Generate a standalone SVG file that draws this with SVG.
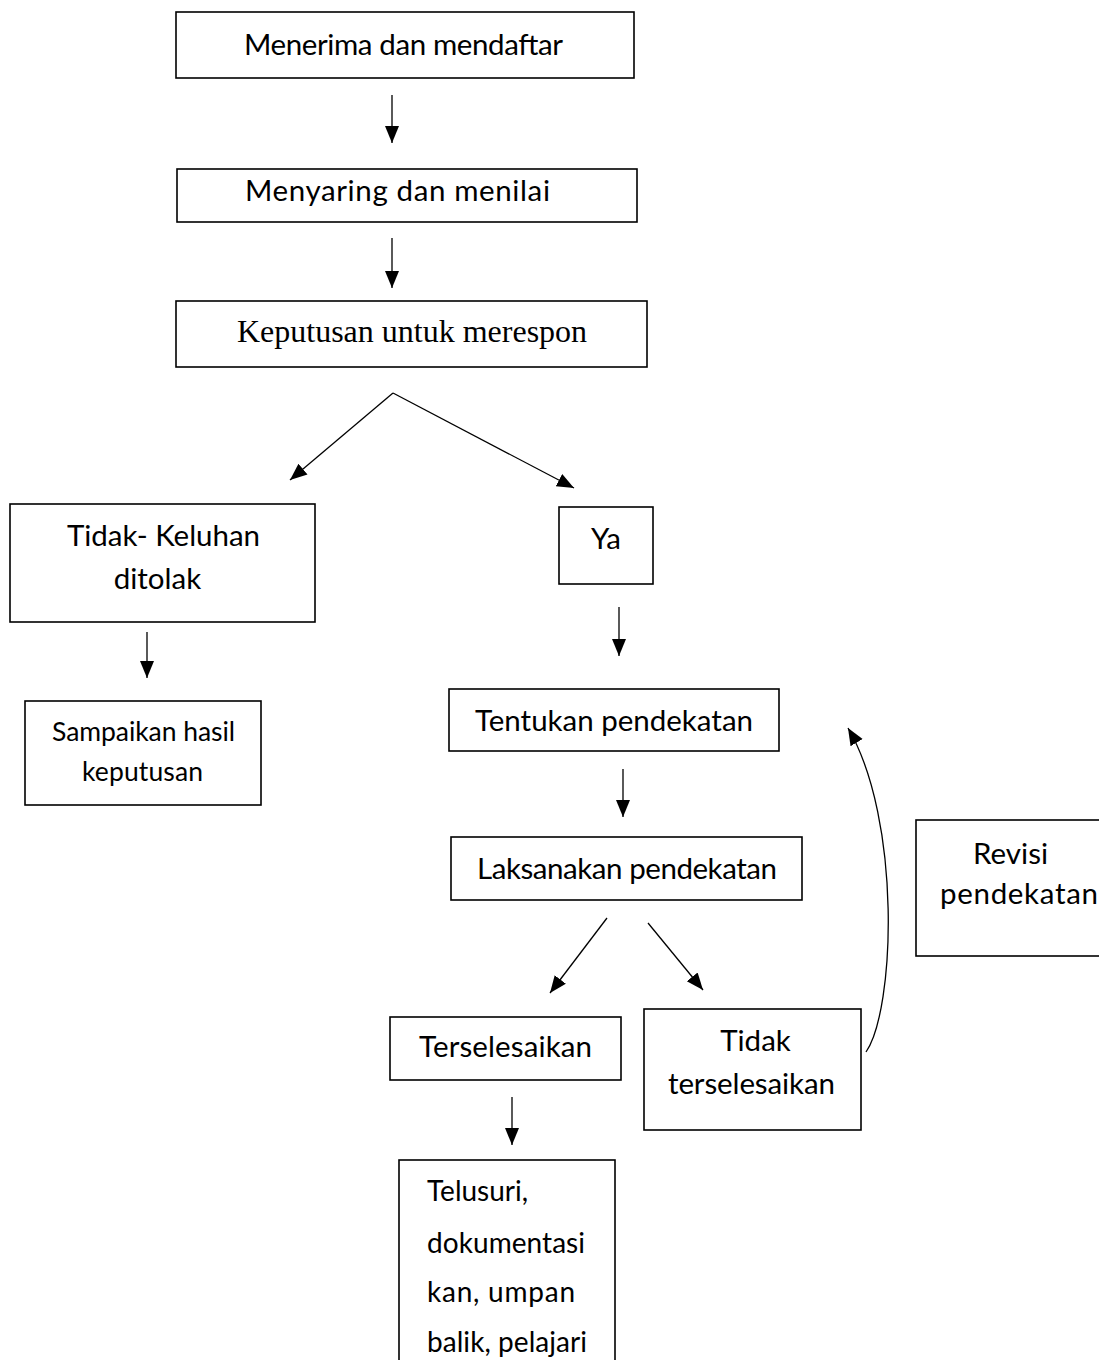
<svg xmlns="http://www.w3.org/2000/svg" width="1099" height="1360" viewBox="0 0 1099 1360">
<style>
.box{fill:#fff;stroke:#000;stroke-width:1.6}
.t{font-family:Lato,"Open Sans","Liberation Sans",sans-serif;font-size:29.5px;fill:#000}
.ts{font-family:Lato,"Open Sans","Liberation Sans",sans-serif;font-size:26.5px;fill:#000}
.tl{font-family:Lato,"Open Sans","Liberation Sans",sans-serif;font-size:28px;fill:#000}
.serif{font-family:"Liberation Serif","Times New Roman",serif;font-size:32px;fill:#000}
.c{text-anchor:middle}
.conn{fill:none;stroke:#000;stroke-width:1.3}
</style>
<defs>
<marker id="ah" markerUnits="userSpaceOnUse" markerWidth="17" markerHeight="17" viewBox="0 0 17 17" refX="17" refY="8.5" orient="auto">
<path d="M0,1.5 L17,8.5 L0,15.5 Z" fill="#000"/>
</marker>
</defs>
<rect width="1099" height="1360" fill="#fff"/>
<g id="connectors">
<line class="conn" x1="392" y1="95" x2="392" y2="143" marker-end="url(#ah)"/>
<line class="conn" x1="392" y1="238" x2="392" y2="288" marker-end="url(#ah)"/>
<line class="conn" x1="393" y1="393" x2="290" y2="480" marker-end="url(#ah)"/>
<line class="conn" x1="393" y1="393" x2="574" y2="488" marker-end="url(#ah)"/>
<line class="conn" x1="147" y1="632" x2="147" y2="678" marker-end="url(#ah)"/>
<line class="conn" x1="619" y1="607" x2="619" y2="656" marker-end="url(#ah)"/>
<line class="conn" x1="623" y1="769" x2="623" y2="817" marker-end="url(#ah)"/>
<line class="conn" x1="607" y1="918" x2="550" y2="993" marker-end="url(#ah)"/>
<line class="conn" x1="648" y1="923" x2="703" y2="990" marker-end="url(#ah)"/>
<line class="conn" x1="512" y1="1097" x2="512" y2="1145" marker-end="url(#ah)"/>
<path class="conn" d="M866,1052 C895,1010 902,820 848,728" marker-end="url(#ah)"/>
</g>
<g id="n1"><rect class="box" x="176" y="12" width="458" height="66"/><text class="t c" x="403.5" y="55" textLength="319">Menerima dan mendaftar</text></g>
<g id="n2"><rect class="box" x="177" y="169" width="460" height="53"/><text class="t c" x="397.5" y="201" textLength="305">Menyaring dan menilai</text></g>
<g id="n3"><rect class="box" x="176" y="301" width="471" height="66"/><text class="serif c" x="412" y="342">Keputusan untuk merespon</text></g>
<g id="n4"><rect class="box" x="10" y="504" width="305" height="118"/><text class="t c" x="163.5" y="546" textLength="193">Tidak- Keluhan</text><text class="t c" x="157.5" y="589">ditolak</text></g>
<g id="n5"><rect class="box" x="25" y="701" width="236" height="104"/><text class="ts c" x="143.5" y="741" textLength="183">Sampaikan hasil</text><text class="ts c" x="142.5" y="781" textLength="121">keputusan</text></g>
<g id="n6"><rect class="box" x="559" y="507" width="94" height="77"/><text class="t c" x="606" y="549">Ya</text></g>
<g id="n7"><rect class="box" x="449" y="689" width="330" height="62"/><text class="t c" x="614" y="731" textLength="278">Tentukan pendekatan</text></g>
<g id="n8"><rect class="box" x="451" y="837" width="351" height="63"/><text class="t c" x="627" y="879" textLength="300">Laksanakan pendekatan</text></g>
<g id="n9"><rect class="box" x="390" y="1017" width="231" height="63"/><text class="t c" x="505.5" y="1057" textLength="173">Terselesaikan</text></g>
<g id="n10"><rect class="box" x="644" y="1009" width="217" height="121"/><text class="t c" x="755.5" y="1051">Tidak</text><text class="t c" x="751.5" y="1094" textLength="167">terselesaikan</text></g>
<g id="n11"><rect class="box" x="916" y="820" width="200" height="136"/><text class="t c" x="1010.5" y="864" textLength="75">Revisi</text><text class="t c" x="1019" y="904" textLength="158">pendekatan</text></g>
<g id="n12"><rect class="box" x="399" y="1160" width="216" height="220"/><text class="tl" x="427" y="1201">Telusuri,</text><text class="tl" x="427" y="1253" textLength="158">dokumentasi</text><text class="tl" x="427" y="1302" textLength="148">kan, umpan</text><text class="tl" x="427" y="1352" textLength="160">balik, pelajari</text></g>
</svg>
